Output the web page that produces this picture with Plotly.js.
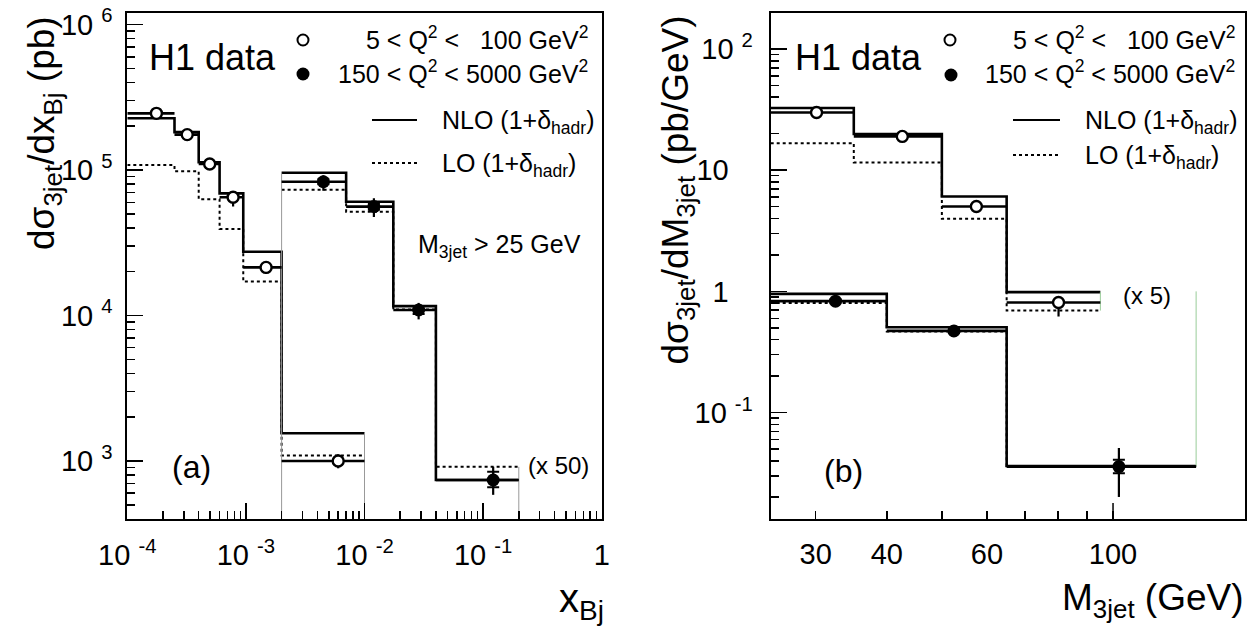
<!DOCTYPE html>
<html>
<head>
<meta charset="utf-8">
<script src="https://cdn.plot.ly/plotly-3.0.1.min.js"></script>
<style>html,body{margin:0;padding:0;background:#fff;}#chart{width:1254px;height:633px;}</style>
</head>
<body>
<div id="chart"></div>
<script>
// ---------- DATA : panel (a)  dσ/dx_Bj ----------
const lowQ_edges = [1e-4, 2.5e-4, 4e-4, 6e-4, 9.5e-4, 2e-3, 1e-2];
const lowQ_x     = [1.76e-4, 3.2e-4, 4.95e-4, 7.8e-4, 1.48e-3, 6.0e-3];
const lowQ_data  = [245000, 175000, 110000, 65000, 21400, 1000];
const lowQ_errUp = [12000, 10000, 10000, 6000, 1800, 110];
const lowQ_errDn = [12000, 10000, 10000, 9000, 2100, 110];
const lowQ_nlo   = [227000, 182000, 113000, 69000, 27400, 1550];
const lowQ_lo    = [108000, 98000, 63000, 39300, 17100, 1090];

const highQ_edges  = [2e-3, 7e-3, 0.0175, 0.04, 0.2];
const highQ_x      = [4.5e-3, 0.012, 0.0286, 0.1216];
const highQ_data   = [83000, 56000, 10900, 740];
const highQ_totUp  = [9000, 8000, 1300, 173];
const highQ_totDn  = [11000, 8500, 1500, 155];
const highQ_statUp = [3300, 2800, 650, 103];
const highQ_statDn = [3300, 2800, 650, 81];
const highQ_nlo    = [95800, 60500, 11600, 740];
const highQ_lo     = [73000, 51700, 11000, 911];

// ---------- DATA : panel (b)  dσ/dM_3jet ----------
const upQ_edges = [25, 35, 50, 65, 95];
const upQ_x     = [30.1, 42.6, 57.5, 80.2];
const upQ_data  = [29.9, 19.0, 5.01, 0.81];
const upQ_errUp = [1.5, 1.1, 0.4, 0.08];
const upQ_errDn = [1.5, 1.1, 0.4, 0.19];
const upQ_nlo   = [32.6, 19.9, 6.07, 0.985];
const upQ_lo    = [16.7, 11.6, 3.97, 0.694];

const dnQ_edges  = [25, 40, 65, 140];
const dnQ_x      = [32.5, 52.5, 102.4];
const dnQ_data   = [0.83, 0.472, 0.0358];
const dnQ_totUp  = [0.05, 0.03, 0.0152];
const dnQ_totDn  = [0.05, 0.03, 0.0157];
const dnQ_statUp = [0.025, 0.02, 0.005];
const dnQ_statDn = [0.025, 0.02, 0.0043];
const dnQ_nlo    = [0.953, 0.506, 0.0362];
const dnQ_lo     = [0.80, 0.466, 0.0362];

// tick labels
const xaTickVals = [1e-4, 1e-3, 1e-2, 1e-1, 1];
const xaTickText = ['10 <sup>-4</sup>', '10 <sup>-3</sup>', '10 <sup>-2</sup>', '10 <sup>-1</sup>', '1'];
const yaTickVals = [1e3, 1e4, 1e5, 1e6];
const yaTickText = ['10 <sup>3</sup>', '10 <sup>4</sup>', '10 <sup>5</sup>', '10 <sup>6</sup>'];
const xbTickVals = [30, 40, 60, 100];
const xbTickText = ['30', '40', '60', '100'];
const ybTickVals = [0.1, 1, 10, 100];
const ybTickText = ['10 <sup>-1</sup>', '1\u00a0\u00a0\u00a0', '10\u00a0\u00a0\u00a0', '10 <sup>2</sup>'];

// ---------- helpers ----------
const W = 1254, H = 633;
const px = v => v / W, py = v => 1 - v / H;
const FONT = 'Liberation Sans, Arial, Helvetica, sans-serif';

function minors(lo, hi) {
  const out = [];
  for (let e = lo; e < hi; e++) for (let m = 2; m <= 9; m++) out.push(m * Math.pow(10, e));
  return out;
}
function step(edges, vals, xa, ya, dash) {
  return {
    x: edges, y: vals.concat([vals[vals.length - 1]]), xaxis: xa, yaxis: ya,
    mode: 'lines', line: {shape: 'hv', color: '#000', width: dash ? 2 : 2.6, dash: dash ? 'dot' : 'solid'},
    showlegend: false, hoverinfo: 'skip'
  };
}
function drop(x, y0, y1, xa, ya, color) {
  return {x: [x, x], y: [y0, y1], xaxis: xa, yaxis: ya, mode: 'lines',
    line: {color: color, width: 1}, showlegend: false, hoverinfo: 'skip'};
}
function xerr(edges, xs) {
  return {
    type: 'data', symmetric: false,
    array: xs.map((v, i) => edges[i + 1] - v),
    arrayminus: xs.map((v, i) => v - edges[i]),
    width: 0, thickness: 2.6, color: '#000'
  };
}
function points(xs, ys, edges, up, dn, xa, ya, open) {
  return {
    x: xs, y: ys, xaxis: xa, yaxis: ya, mode: 'markers', showlegend: false,
    marker: {symbol: 'circle', size: open ? 11 : 13, color: open ? '#fff' : '#000',
      line: {color: '#000', width: open ? 2.4 : 0}},
    error_x: xerr(edges, xs),
    error_y: {type: 'data', symmetric: false, array: up, arrayminus: dn, width: 0, thickness: 2.2, color: '#000'}
  };
}
function stat(xs, ys, up, dn, xa, ya) {
  return {
    x: xs, y: ys, xaxis: xa, yaxis: ya, mode: 'markers', showlegend: false,
    marker: {size: 1, color: 'rgba(0,0,0,0)'},
    error_y: {type: 'data', symmetric: false, array: up, arrayminus: dn, width: 6, thickness: 2, color: '#000'}
  };
}

const traces = [
  // panel (a)
  step(lowQ_edges, lowQ_lo, 'x', 'y', true),
  step(highQ_edges, highQ_lo, 'x', 'y', true),
  step(lowQ_edges, lowQ_nlo, 'x', 'y', false),
  step(highQ_edges, highQ_nlo, 'x', 'y', false),
  drop(highQ_edges[0], 1, Math.max(highQ_nlo[0], highQ_lo[0]), 'x', 'y', '#999'),
  drop(lowQ_edges[lowQ_edges.length - 1], 1, lowQ_nlo[lowQ_nlo.length - 1], 'x', 'y', '#999'),
  drop(highQ_edges[highQ_edges.length - 1], 1, highQ_lo[highQ_lo.length - 1], 'x', 'y', '#999'),
  stat(highQ_x, highQ_data, highQ_statUp, highQ_statDn, 'x', 'y'),
  points(lowQ_x, lowQ_data, lowQ_edges, lowQ_errUp, lowQ_errDn, 'x', 'y', true),
  points(highQ_x, highQ_data, highQ_edges, highQ_totUp, highQ_totDn, 'x', 'y', false),
  // panel (b)
  step(upQ_edges, upQ_lo, 'x2', 'y2', true),
  step(dnQ_edges, dnQ_lo, 'x2', 'y2', true),
  step(upQ_edges, upQ_nlo, 'x2', 'y2', false),
  step(dnQ_edges, dnQ_nlo, 'x2', 'y2', false),
  drop(upQ_edges[upQ_edges.length - 1], upQ_lo[upQ_lo.length - 1], upQ_nlo[upQ_nlo.length - 1], 'x2', 'y2', '#9c9'),
  drop(dnQ_edges[dnQ_edges.length - 1], dnQ_nlo[dnQ_nlo.length - 1], 1, 'x2', 'y2', '#9c9'),
  stat(dnQ_x, dnQ_data, dnQ_statUp, dnQ_statDn, 'x2', 'y2'),
  points(upQ_x, upQ_data, upQ_edges, upQ_errUp, upQ_errDn, 'x2', 'y2', true),
  points(dnQ_x, dnQ_data, dnQ_edges, dnQ_totUp, dnQ_totDn, 'x2', 'y2', false)
];

const axBase = {
  type: 'log', showline: true, linewidth: 2, linecolor: '#000', mirror: true,
  ticks: 'inside', ticklen: 16, tickwidth: 1.5, tickcolor: '#000',
  showgrid: false, zeroline: false, tickmode: 'array',
  tickfont: {family: FONT, size: 29, color: '#000'}
};
const yDom = [(H - 519) / H, (H - 13) / H];

const layout = {
  width: W, height: H, margin: {l: 0, r: 0, t: 0, b: 0},
  paper_bgcolor: '#fff', plot_bgcolor: '#fff', showlegend: false,
  font: {family: FONT, color: '#000'},
  xaxis: Object.assign({}, axBase, {
    domain: [127.3 / W, 601.7 / W], range: [-4, 0], anchor: 'y',
    tickvals: xaTickVals, ticktext: xaTickText, ticklabelstandoff: 9,
    minor: {tickmode: 'array', tickvals: minors(-4, 0), ticks: 'inside', ticklen: 8, tickwidth: 1.5, tickcolor: '#000', showgrid: false}
  }),
  yaxis: Object.assign({}, axBase, {
    domain: yDom, range: [2.601, 6.079], anchor: 'x',
    tickvals: yaTickVals, ticktext: yaTickText, ticklabelstandoff: 7,
    minor: {tickmode: 'array', tickvals: minors(2, 6), ticks: 'inside', ticklen: 8, tickwidth: 1.5, tickcolor: '#000', showgrid: false}
  }),
  xaxis2: Object.assign({}, axBase, {
    domain: [770.7 / W, 1245 / W], range: [Math.log10(25), 2.2321], anchor: 'y2',
    tickvals: xbTickVals, ticktext: xbTickText, ticklen: 8, ticklabelstandoff: 8,
    minor: {tickmode: 'array', tickvals: [50, 70, 80, 90], ticks: 'inside', ticklen: 8, tickwidth: 1.5, tickcolor: '#000', showgrid: false}
  }),
  yaxis2: Object.assign({}, axBase, {
    domain: yDom, range: [-1.8786, 2.2973], anchor: 'x2',
    tickvals: ybTickVals, ticktext: ybTickText, ticklabelstandoff: 10,
    minor: {tickmode: 'array', tickvals: minors(-2, 2), ticks: 'inside', ticklen: 8, tickwidth: 1.5, tickcolor: '#000', showgrid: false}
  }),
  shapes: [
    // long tick at 100 GeV
    {type: 'line', xref: 'x2', yref: 'y2 domain', x0: 100, x1: 100, y0: 0, y1: 16 / 506, line: {color: '#000', width: 1.5}},
    // legend lines panel (a)
    {type: 'line', xref: 'paper', yref: 'paper', x0: px(372), x1: px(417), y0: py(120), y1: py(120), line: {color: '#000', width: 2}},
    {type: 'line', xref: 'paper', yref: 'paper', x0: px(372), x1: px(417), y0: py(163), y1: py(163), line: {color: '#000', width: 2, dash: 'dot'}},
    // legend lines panel (b)
    {type: 'line', xref: 'paper', yref: 'paper', x0: px(1013), x1: px(1060), y0: py(120), y1: py(120), line: {color: '#000', width: 2}},
    {type: 'line', xref: 'paper', yref: 'paper', x0: px(1013), x1: px(1060), y0: py(155), y1: py(155), line: {color: '#000', width: 2, dash: 'dot'}},
    // legend markers
    {type: 'circle', xref: 'paper', yref: 'paper', xsizemode: 'pixel', ysizemode: 'pixel', xanchor: px(303), yanchor: py(40), x0: -5.5, x1: 5.5, y0: -5.5, y1: 5.5, fillcolor: '#fff', line: {color: '#000', width: 2}},
    {type: 'circle', xref: 'paper', yref: 'paper', xsizemode: 'pixel', ysizemode: 'pixel', xanchor: px(303), yanchor: py(74), x0: -6.5, x1: 6.5, y0: -6.5, y1: 6.5, fillcolor: '#000', line: {color: '#000', width: 0}},
    {type: 'circle', xref: 'paper', yref: 'paper', xsizemode: 'pixel', ysizemode: 'pixel', xanchor: px(950), yanchor: py(40), x0: -5.5, x1: 5.5, y0: -5.5, y1: 5.5, fillcolor: '#fff', line: {color: '#000', width: 2}},
    {type: 'circle', xref: 'paper', yref: 'paper', xsizemode: 'pixel', ysizemode: 'pixel', xanchor: px(951), yanchor: py(75), x0: -6.5, x1: 6.5, y0: -6.5, y1: 6.5, fillcolor: '#000', line: {color: '#000', width: 0}}
  ],
  annotations: []
};

function ann(text, x, y, size, xanchor, yanchor, angle) {
  layout.annotations.push({
    text: text, xref: 'paper', yref: 'paper', x: px(x), y: py(y), showarrow: false,
    xanchor: xanchor || 'left', yanchor: yanchor || 'middle', textangle: angle || 0,
    font: {family: FONT, size: size, color: '#000'}
  });
}
const row1 = '5 &lt; Q<sup>2</sup> &lt;\u00a0\u00a0\u00a0100 GeV<sup>2</sup>';
const row2 = '150 &lt; Q<sup>2</sup> &lt; 5000 GeV<sup>2</sup>';
// panel (a)
ann('H1 data', 147, 58, 36);
ann(row1, 590, 38, 25, 'right');
ann(row2, 590, 72, 25, 'right');
ann('NLO (1+δ<sub>hadr</sub>)', 440, 122, 25);
ann('LO (1+δ<sub>hadr</sub>)', 440, 165, 25);
ann('M<sub>3jet</sub> &gt; 25 GeV', 416, 246, 25);
ann('(a)', 170, 467, 32);
ann('(x 50)', 526, 465, 24);
ann('dσ<sub>3jet</sub>/dx<sub>Bj</sub> (pb)', 44, 14, 37, 'center', 'top', -90);
ann('x<sub>Bj</sub>', 606, 601, 40, 'right');
// panel (b)
ann('H1 data', 793, 58, 36);
ann(row1, 1237, 38, 25, 'right');
ann(row2, 1237, 72, 25, 'right');
ann('NLO (1+δ<sub>hadr</sub>)', 1083, 122, 25);
ann('LO (1+δ<sub>hadr</sub>)', 1083, 157, 25);
ann('(b)', 822, 471, 32);
ann('(x 5)', 1121, 295, 24);
ann('dσ<sub>3jet</sub>/dM<sub>3jet</sub> (pb/GeV)', 678, 14, 37, 'center', 'top', -90);
ann('M<sub>3jet</sub> (GeV)', 1246, 600, 37, 'right');

Plotly.newPlot('chart', traces, layout, {staticPlot: true, displayModeBar: false});
</script>
</body>
</html>
